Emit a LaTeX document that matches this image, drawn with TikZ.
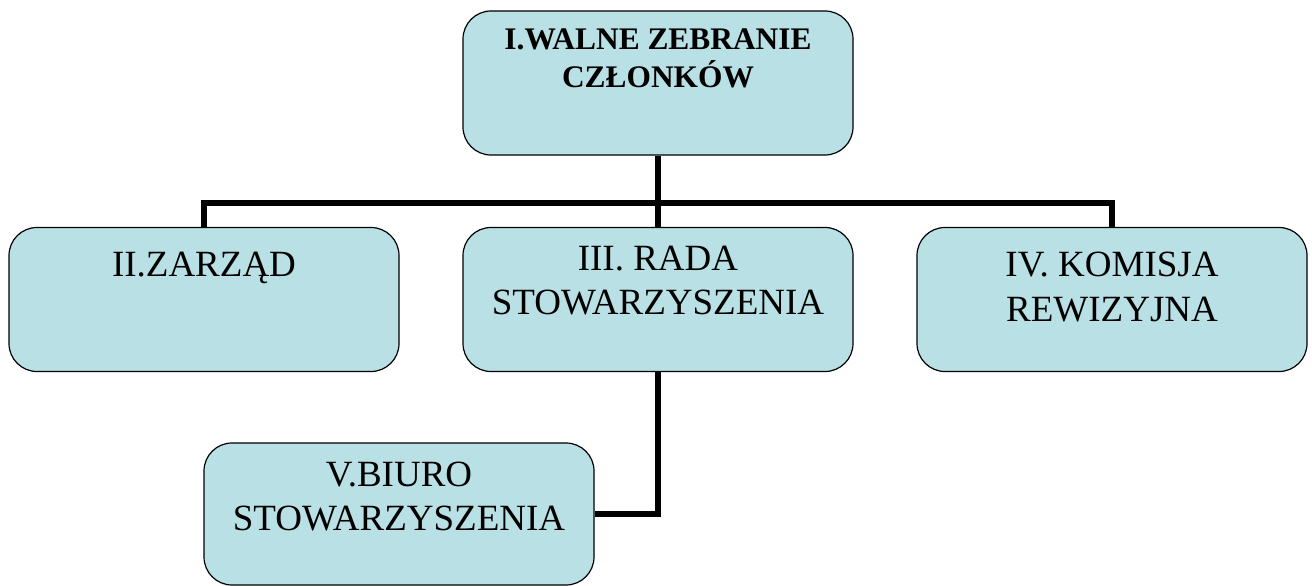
\documentclass[tikz,border=0pt]{standalone}
\usepackage{fontspec}
\setmainfont{Liberation Serif}
\definecolor{boxfill}{RGB}{185,224,228}

\begin{document}
\begin{tikzpicture}[x=1pt, y=-1pt,
    orgbox/.style={draw=black, line width=1.2pt, fill=boxfill, rounded corners=28pt,
        minimum width=390pt, minimum height=144pt, inner sep=0pt},
    boxtext/.style={anchor=north, align=center, inner sep=0pt,
        font=\fontsize{37}{44.4}\selectfont},
    link/.style={line width=5.5pt}]

    % keep the page the same size as the original drawing
    \useasboundingbox (0,0) rectangle (1312,586);

    % Define box positions
    \def\rowtop{83}
    \def\rowmid{299.5}

    % Top box (bold title)
    \node[orgbox] (zebranie) at (658, \rowtop) {};
    \node[boxtext, font=\bfseries\fontsize{31.4}{37.7}\selectfont, below=18pt] (zebranietxt)
        at (zebranie.north) {I.WALNE ZEBRANIE\\CZŁONKÓW};

    % Second row
    \node[orgbox] (zarzad) at (204, \rowmid) {};
    \node[boxtext, yshift=-25pt] (zarzadtxt) at (zarzad.north) {II.ZARZĄD};

    \node[orgbox] (rada) at (658, \rowmid) {};
    \node[boxtext, yshift=-19pt] (radatxt) at (rada.north) {III. RADA\\STOWARZYSZENIA};

    \node[orgbox] (komisja) at (1112, \rowmid) {};
    \node[boxtext, yshift=-25pt] (komisjatxt) at (komisja.north) {IV. KOMISJA\\REWIZYJNA};

    % Bottom box
    \node[orgbox, minimum height=142pt] (biuro) at (399, 514) {};
    \node[boxtext, yshift=-19pt] (biurotxt) at (biuro.north) {V.BIURO\\STOWARZYSZENIA};

    % Connectors
    \coordinate (rozgalezienie) at (658, 203);
    \draw[link] (zebranie.south) -- (rada.north);
    \draw[link] (zarzad.north) |- (rozgalezienie) -| (komisja.north);
    \draw[link] (rada.south) |- (biuro.east);

\end{tikzpicture}
\end{document}
